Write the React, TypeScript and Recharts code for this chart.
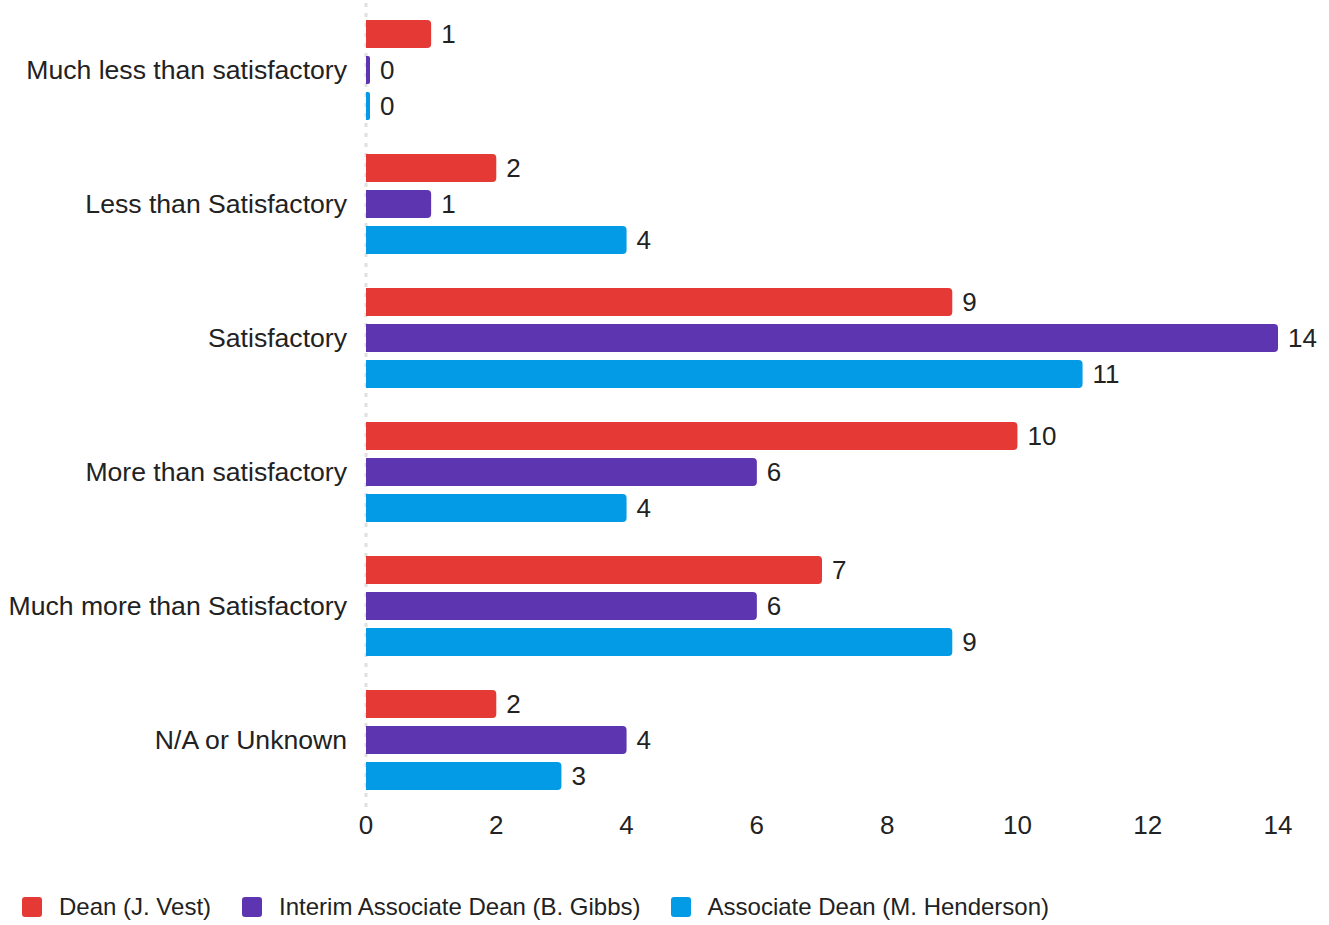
import {Bar, BarChart, CartesianGrid, LabelList, Legend, XAxis, YAxis} from "recharts";

const categories = [
  "Much less than satisfactory",
  "Less than Satisfactory",
  "Satisfactory",
  "More than satisfactory",
  "Much more than Satisfactory",
  "N/A or Unknown",
];
const deanVest = [1, 2, 9, 10, 7, 2];
const interimGibbs = [0, 1, 14, 6, 6, 4];
const associateHenderson = [0, 4, 11, 4, 9, 3];
const xTicks = [0, 2, 4, 6, 8, 10, 12, 14];

const series = [
  {key: "dean", name: "Dean (J. Vest)", color: "#E53935"},
  {key: "interim", name: "Interim Associate Dean (B. Gibbs)", color: "#5E35B1"},
  {key: "associate", name: "Associate Dean (M. Henderson)", color: "#039BE5"},
];

const data = categories.map((name, i) => ({
  name,
  dean: deanVest[i],
  interim: interimGibbs[i],
  associate: associateHenderson[i],
}));

const FONT = "'Liberation Sans', Arial, sans-serif";
const TEXT = "#222";

function LegendContent() {
  const gaps = [31, 30, 0];
  return (
    <div style={{display: "flex", alignItems: "center", height: 36, paddingLeft: 22, fontFamily: FONT}}>
      {series.map((s, i) => (
        <div key={s.key} style={{display: "flex", alignItems: "center", marginRight: gaps[i]}}>
          <span style={{width: 20, height: 20, borderRadius: 3, background: s.color, display: "inline-block"}}/>
          <span style={{marginLeft: 17, fontSize: 24, color: TEXT, whiteSpace: "nowrap"}}>{s.name}</span>
        </div>
      ))}
    </div>
  );
}

export default function App() {
  return (
    <div style={{position: "absolute", left: 0, top: 0, width: 1329, height: 925, background: "#fff"}}>
      <BarChart
        width={1329}
        height={925}
        data={data}
        layout="vertical"
        margin={{top: 3, right: 51, left: 0, bottom: 42}}
        barGap={8}
        style={{fontFamily: FONT}}
      >
        {/* zero line drawn as a grid line so the bars sit on top of it */}
        <CartesianGrid
          horizontal={false}
          verticalCoordinatesGenerator={({offset}: any) => [offset.left]}
          stroke="#e0e0e0"
          strokeDasharray="4 6"
          strokeWidth={3}
        />
        <XAxis
          type="number"
          domain={[0, 14]}
          ticks={xTicks}
          axisLine={false}
          tickLine={false}
          tickSize={0}
          tickMargin={9}
          height={40}
          tick={{fill: TEXT, fontSize: 26}}
        />
        <YAxis
          type="category"
          dataKey="name"
          width={366}
          tickLine={false}
          tickSize={0}
          tickMargin={19}
          axisLine={false}
          tick={{fill: TEXT, fontSize: 26.6}}
        />
        <Legend
          verticalAlign="bottom"
          content={<LegendContent/>}
          wrapperStyle={{top: 889, left: 0, width: 1329, height: 36}}
        />
        {series.map((s) => (
          <Bar
            key={s.key}
            dataKey={s.key}
            name={s.name}
            fill={s.color}
            barSize={28}
            minPointSize={4}
            radius={[0, 4, 4, 0]}
            isAnimationActive={false}
          >
            <LabelList dataKey={s.key} position="right" offset={10} fill={TEXT} fontSize={26}/>
          </Bar>
        ))}
      </BarChart>
    </div>
  );
}
